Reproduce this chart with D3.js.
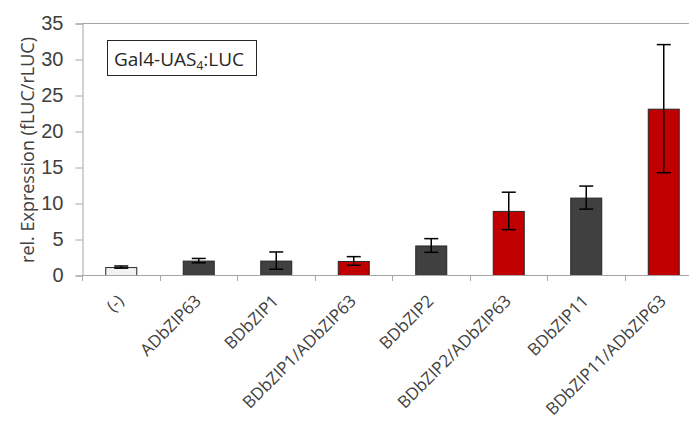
<!DOCTYPE html>
<html>
<head>
<meta charset="utf-8">
<script src="https://cdn.jsdelivr.net/npm/d3@7"></script>
<style>
  html, body { margin: 0; padding: 0; background: #fff; }
  svg { display: block; font-family: "Open Sans", "Noto Sans", sans-serif; }
</style>
</head>
<body>
<svg id="chart" width="689" height="424"></svg>
<script>
// Constructs tested in the luciferase reporter assay
const categories = ["(-)", "ADbZIP63", "BDbZIP1", "BDbZIP1/ADbZIP63", "BDbZIP2", "BDbZIP2/ADbZIP63", "BDbZIP11", "BDbZIP11/ADbZIP63"];
// Mean relative expression (fLUC/rLUC)
const means = [1.1, 2.0, 2.0, 1.95, 4.1, 8.9, 10.75, 23.1];
// Standard deviation per construct
const errors = [0.15, 0.3, 1.2, 0.6, 0.95, 2.6, 1.6, 8.9];
// Construct type: control, single effector, or combination
const groups = ["control", "single", "single", "combo", "single", "combo", "single", "combo"];
const yTicks = [0, 5, 10, 15, 20, 25, 30, 35];

const colorOf = { control: "#f2f2f2", single: "#404040", combo: "#c00000" };

const svg = d3.select("#chart");
const plotLeft = 82, plotRight = 702, plotTop = 23, plotBottom = 275;

const x = d3.scaleBand()
  .domain(categories)
  .range([plotLeft, plotRight])
  .paddingInner(0.6)
  .paddingOuter(0.3);

const y = d3.scaleLinear().domain([0, 35]).range([plotBottom, plotTop]);

const axisColor = "#a6a6a6";
const textColor = "#404040";

// Plot frame top line
svg.append("line")
  .attr("x1", plotLeft).attr("x2", plotRight)
  .attr("y1", y(35) + 0.5).attr("y2", y(35) + 0.5)
  .attr("stroke", axisColor).attr("stroke-width", 1);

// Y axis
const yAxis = svg.append("g")
  .attr("transform", `translate(${plotLeft + 0.5},0.5)`)
  .call(d3.axisLeft(y).tickValues(yTicks).tickSizeOuter(0).tickSize(7).tickPadding(12));
yAxis.select(".domain").attr("stroke", axisColor);
yAxis.selectAll(".tick line").attr("stroke", axisColor);
yAxis.selectAll(".tick text")
  .attr("fill", textColor)
  .style("font-size", "20px");

// Category boundary ticks on the x axis
const bounds = d3.range(categories.length + 1).map(i => x.range()[0] + i * x.step());
svg.append("g").selectAll("line")
  .data(bounds)
  .join("line")
  .attr("x1", d => Math.round(d) + 0.5).attr("x2", d => Math.round(d) + 0.5)
  .attr("y1", plotBottom).attr("y2", plotBottom + 6)
  .attr("stroke", axisColor);

// Bars
svg.append("g").selectAll("rect")
  .data(categories)
  .join("rect")
  .attr("x", d => x(d) + 0.5)
  .attr("y", (d, i) => y(means[i]) + 0.5)
  .attr("width", x.bandwidth())
  .attr("height", (d, i) => y(0) - y(means[i]))
  .attr("fill", (d, i) => colorOf[groups[i]])
  .attr("stroke", "#262626")
  .attr("stroke-width", 1);

// X axis baseline
svg.append("line")
  .attr("x1", plotLeft).attr("x2", plotRight)
  .attr("y1", plotBottom + 0.5).attr("y2", plotBottom + 0.5)
  .attr("stroke", axisColor);

// Error bars
const cap = 7;
const eb = svg.append("g").attr("stroke", "#000").attr("stroke-width", 1.5);
categories.forEach((c, i) => {
  const cx = x(c) + x.bandwidth() / 2 + 0.5;
  const hi = y(means[i] + errors[i]);
  const lo = y(means[i] - errors[i]);
  eb.append("line").attr("x1", cx).attr("x2", cx).attr("y1", hi).attr("y2", lo);
  eb.append("line").attr("x1", cx - cap).attr("x2", cx + cap).attr("y1", hi).attr("y2", hi);
  eb.append("line").attr("x1", cx - cap).attr("x2", cx + cap).attr("y1", lo).attr("y2", lo);
});

// Rotated category labels
svg.append("g").selectAll("text")
  .data(categories)
  .join("text")
  .attr("transform", d => `translate(${x(d) + x.bandwidth() / 2 + 4},${plotBottom + 27}) rotate(-45)`)
  .attr("text-anchor", "end")
  .attr("fill", textColor)
  .style("font-size", "17px")
  .text(d => d);

// Y axis title
svg.append("text")
  .attr("transform", `translate(34,150) rotate(-90)`)
  .attr("text-anchor", "middle")
  .attr("fill", textColor)
  .style("font-size", "18px")
  .text("rel. Expression (fLUC/rLUC)");

// Reporter label box
svg.append("rect")
  .attr("x", 107.5).attr("y", 40.5)
  .attr("width", 149).attr("height", 35)
  .attr("fill", "#fff").attr("stroke", "#262626").attr("stroke-width", 1);
const lab = svg.append("text")
  .attr("x", 114).attr("y", 65.5)
  .attr("fill", "#262626")
  .style("font-size", "19px");
lab.append("tspan").text("Gal4-UAS");
lab.append("tspan").attr("dy", 4).style("font-size", "12px").text("4");
lab.append("tspan").attr("dy", -4).text(":LUC");
</script>
</body>
</html>
